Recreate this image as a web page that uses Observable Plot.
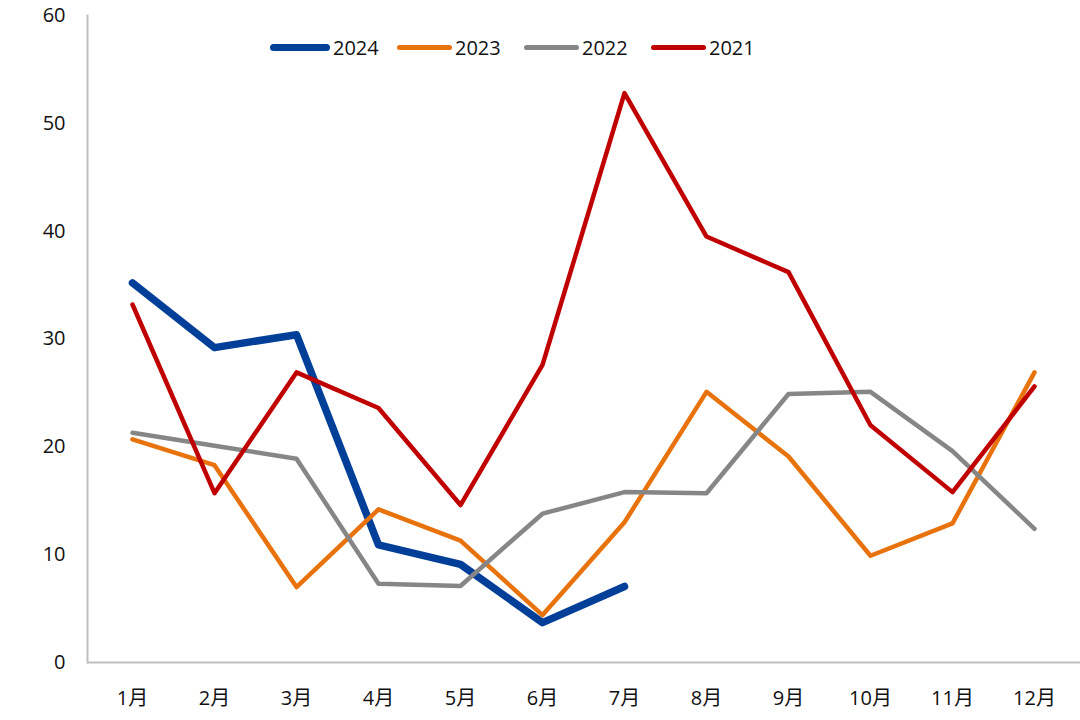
<!DOCTYPE html>
<html><head><meta charset="utf-8">
<script src="https://cdn.jsdelivr.net/npm/d3@7"></script>
<script src="https://cdn.jsdelivr.net/npm/@observablehq/plot@0.6"></script>
<style>
body{margin:0;background:#fff;font-family:"Open Sans","Noto Sans CJK SC",sans-serif;}
#wrap{position:relative;width:1080px;height:720px;}
#legend{position:absolute;top:34px;left:270px;display:flex;align-items:center;font-size:20px;color:#111;}
.item{display:flex;align-items:center;width:127px;}
.sw{border-radius:4px;margin-right:3px;}
</style></head><body>
<div id="wrap"><div id="legend"></div></div>
<script>
const months = ["1月","2月","3月","4月","5月","6月","7月","8月","9月","10月","11月","12月"];
const years = ["2024","2023","2022","2021"];
const v2024 = [35.2, 29.2, 30.4, 10.9, 9.1, 3.7, 7.05];
const v2023 = [20.7, 18.3, 7.0, 14.2, 11.3, 4.4, 13.0, 25.1, 19.1, 9.9, 12.9, 26.9];
const v2022 = [21.3, 20.1, 18.9, 7.3, 7.1, 13.8, 15.8, 15.7, 24.9, 25.1, 19.6, 12.4];
const v2021 = [33.2, 15.7, 26.9, 23.6, 14.6, 27.6, 52.8, 39.5, 36.2, 22.0, 15.8, 25.6];
const colors = ["#023f98", "#e8720c", "#868686", "#c00000"];
const widths = [7.5, 4.5, 4.5, 4.5];
const swatchW = [60, 55, 55, 55];
const series = [v2024, v2023, v2022, v2021];

const data = [];
series.forEach((vals, i) => vals.forEach((v, j) => data.push({year: years[i], month: months[j], value: v})));

const marks = [
  Plot.ruleY([0], {stroke: "#bfbfbf", strokeWidth: 2}),
  Plot.frame({anchor: "left", stroke: "#bfbfbf", strokeWidth: 2}),
  Plot.axisY({tickSize: 0, tickPadding: 22, ticks: [0,10,20,30,40,50,60], fontSize: 20, label: null}),
  Plot.axisX({tickSize: 0, tickPadding: 28, fontSize: 20, label: null})
];
years.forEach((y, i) => {
  marks.push(Plot.line(data.filter(d => d.year === y), {
    x: "month", y: "value", stroke: colors[i], strokeWidth: widths[i],
    strokeLinejoin: "round", strokeLinecap: "round"
  }));
});

const chart = Plot.plot({
  width: 1080, height: 720,
  marginLeft: 87, marginRight: 0, marginTop: 15, marginBottom: 58,
  style: {fontFamily: '"Open Sans","Noto Sans CJK SC",sans-serif', fontSize: "20px", color: "#111"},
  x: {type: "point", domain: months, range: [127, 1039], padding: 0},
  y: {domain: [0, 60]},
  marks
});
document.getElementById("wrap").prepend(chart);

const leg = document.getElementById("legend");
years.forEach((y, i) => {
  const it = document.createElement("div"); it.className = "item";
  const sw = document.createElement("div"); sw.className = "sw";
  sw.style.height = widths[i] + "px"; sw.style.width = swatchW[i] + "px"; sw.style.background = colors[i];
  const t = document.createElement("span"); t.textContent = y;
  it.append(sw, t); leg.append(it);
});
</script>
</body></html>
